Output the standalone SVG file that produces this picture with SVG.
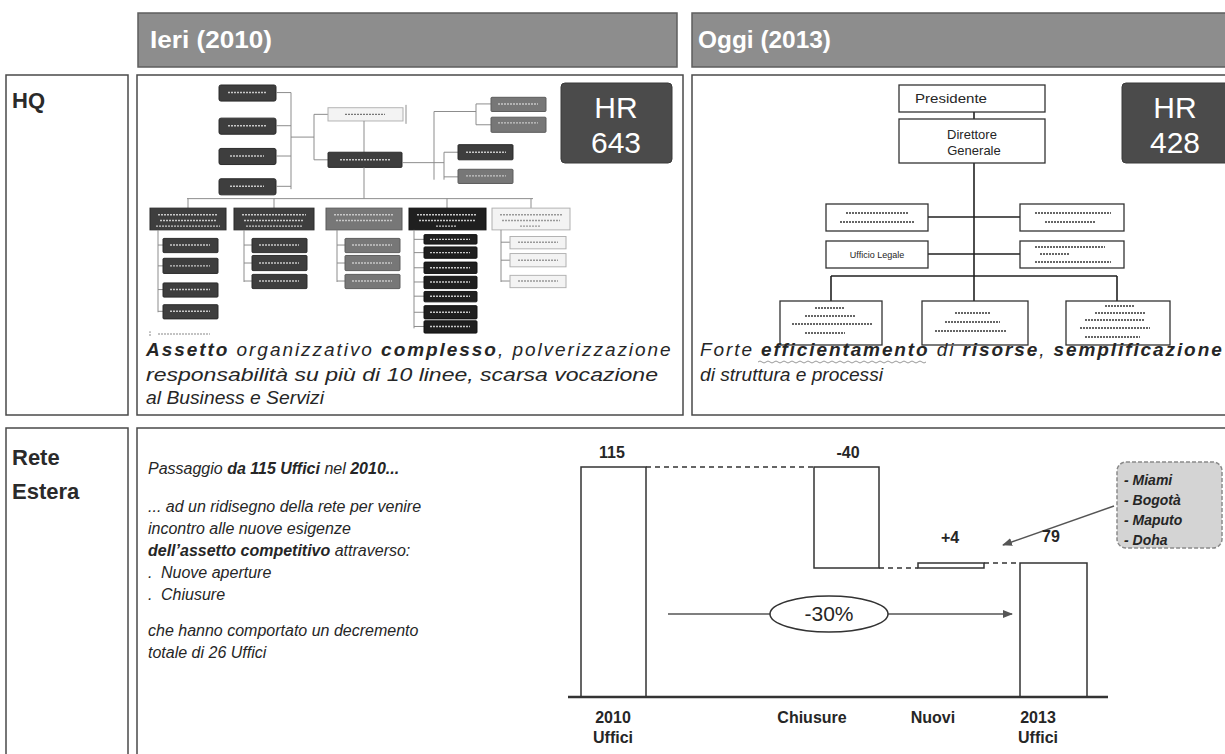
<svg xmlns="http://www.w3.org/2000/svg" width="1225" height="754" viewBox="0 0 1225 754">
<style>
text{font-family:"Liberation Sans",Arial,sans-serif;fill:#262626}
.hdr{fill:#8d8d8d;stroke:#5e5e5e;stroke-width:1.5}
.hdrt{fill:#ffffff;font-weight:bold;font-size:23px}
.panel{fill:#ffffff;stroke:#4a4a4a;stroke-width:1.5}
.lbl{font-weight:bold;font-size:22px;fill:#2a2a2a}
.hr{fill:#4b4b4b;stroke:#3a3a3a;stroke-width:1}
.hrt{fill:#ffffff;font-size:30px;text-anchor:middle}
.it{font-style:italic;font-size:19px}
.it2{font-style:italic;font-size:16px}
.b{font-weight:bold}
.oc{fill:#ffffff;stroke:#333;stroke-width:1.3}
.ocl{stroke:#222;stroke-width:1.6;fill:none}
.scr{stroke:#666;stroke-width:2;stroke-dasharray:2 1;fill:none}
.d1{fill:#3e3e3e;stroke:#2a2a2a;stroke-width:1}
.d2{fill:#777;stroke:#5a5a5a;stroke-width:1}
.d3{fill:#1f1f1f;stroke:#111;stroke-width:1}
.d4{fill:#f3f3f3;stroke:#b0b0b0;stroke-width:1}
.lc{stroke:#8a8a8a;stroke-width:1;fill:none}
.lw{stroke:#c8c8c8;stroke-width:1.5;stroke-dasharray:2 1;fill:none}
.bar{fill:#ffffff;stroke:#333;stroke-width:1.5}
.dash{stroke:#333;stroke-width:1.5;stroke-dasharray:5 4;fill:none}
.cl{font-weight:bold;font-size:16px;text-anchor:middle}
.mi{font-weight:bold;font-style:italic;font-size:14px}
</style>
<defs>
<marker id="ah" markerWidth="10" markerHeight="8" refX="9" refY="4" orient="auto" markerUnits="userSpaceOnUse">
<path d="M0,0 L10,4 L0,8 Z" fill="#555"/>
</marker>
</defs>

<!-- headers -->
<g id="hdr-ieri">
<rect class="hdr" x="138" y="13" width="539" height="54"/>
<text class="hdrt" x="150" y="48" textLength="122" lengthAdjust="spacingAndGlyphs">Ieri (2010)</text>
</g>
<g id="hdr-oggi">
<rect class="hdr" x="692" y="13" width="545" height="54"/>
<text class="hdrt" x="698" y="48" textLength="133" lengthAdjust="spacingAndGlyphs">Oggi (2013)</text>
</g>

<!-- row labels -->
<g id="lbl-hq">
<rect class="panel" x="6" y="75" width="122" height="340"/>
<text class="lbl" x="12" y="108">HQ</text>
</g>
<g id="lbl-rete">
<rect class="panel" x="6" y="428" width="122" height="340"/>
<text class="lbl" x="12" y="465">Rete</text>
<text class="lbl" x="12" y="499">Estera</text>
</g>

<!-- HQ Ieri panel -->
<g id="panel-ieri">
<rect class="panel" x="137" y="75" width="546" height="340"/>
<g transform="matrix(1,0,0,0.947,0,4.5)">
<rect class="d1" x="219" y="85" width="57" height="17" rx="2"/>
<rect class="d1" x="219" y="120" width="57" height="17" rx="2"/>
<rect class="d1" x="219" y="152" width="57" height="17" rx="2"/>
<rect class="d1" x="219" y="184" width="57" height="17" rx="2"/>
<path class="lw" d="M228,93h38M228,128h38M230,160h34M230,192h34"/>
<path class="lc" d="M276,93H291M276,128H291M276,160H291M276,192H291M291,93V195M291,140H314M314,116V164M314,116H328M314,164H328"/>
<rect class="d4" x="328" y="109" width="75" height="14"/>
<path d="M345,116h40" stroke="#777" stroke-width="1.5" stroke-dasharray="2 1"/>
<path class="lc" d="M406,106V126M364,123V156"/>
<rect class="d1" x="328" y="156" width="74" height="16" rx="1"/>
<path class="lw" d="M340,164h50"/>
<path class="lc" d="M402,167H434M434,113V185M434,113H476M476,105V127M476,105H491M476,127H491M434,167H444M444,156V185M444,156H458M444,182H458"/>
<rect class="d2" x="491" y="98" width="55" height="15" rx="1"/>
<rect class="d2" x="491" y="119" width="55" height="16" rx="1"/>
<rect class="d1" x="458" y="148" width="55" height="16" rx="1"/>
<rect class="d2" x="458" y="174" width="55" height="15" rx="1"/>
<path class="lw" d="M498,105h40M498,125h40M466,156h40M466,181h40"/>
<path class="lc" d="M364,172V205M187,205H533M188,205V215M274,205V215M447,205V215M531,205V215"/>
<rect class="d1" x="150" y="215" width="76" height="23"/>
<rect class="d1" x="234" y="215" width="80" height="23"/>
<rect class="d2" x="326" y="215" width="76" height="23"/>
<rect class="d3" x="409" y="215" width="77" height="23"/>
<rect class="d4" x="492" y="215" width="78" height="23"/>
<path class="lw" d="M158,222h60M160,228h56M156,234h64M242,222h64M244,228h60M246,234h56M334,222h60M336,228h56M417,222h60M419,228h56M436,234h20"/>
<path d="M500,222h62M502,228h58M520,234h20" stroke="#999" stroke-width="1.5" stroke-dasharray="2 1" fill="none"/>
<path class="lc" d="M158,238V325M158,254H163M158,276H163M158,301H163M158,324H163"/>
<rect class="d1" x="163" y="247" width="55" height="15" rx="1"/>
<rect class="d1" x="163" y="268" width="55" height="16" rx="1"/>
<rect class="d1" x="163" y="294" width="55" height="15" rx="1"/>
<rect class="d1" x="163" y="317" width="55" height="15" rx="1"/>
<path class="lc" d="M244,238V293M244,254H252M244,273H252M244,292H252"/>
<rect class="d1" x="252" y="247" width="55" height="15" rx="1"/>
<rect class="d1" x="252" y="265" width="55" height="16" rx="1"/>
<rect class="d1" x="252" y="285" width="55" height="15" rx="1"/>
<path class="lc" d="M337,238V293M337,254H345M337,273H345M337,292H345"/>
<rect class="d2" x="345" y="247" width="55" height="15" rx="1"/>
<rect class="d2" x="345" y="265" width="55" height="16" rx="1"/>
<rect class="d2" x="345" y="285" width="55" height="15" rx="1"/>
<path class="lc" d="M414,238V342M414,248H424M414,262H424M414,278H424M414,293H424M414,308H424M414,325H424M414,340H424"/>
<rect class="d3" x="424" y="243" width="53" height="10" rx="1"/>
<rect class="d3" x="424" y="256" width="53" height="12" rx="1"/>
<rect class="d3" x="424" y="272" width="53" height="12" rx="1"/>
<rect class="d3" x="424" y="287" width="53" height="13" rx="1"/>
<rect class="d3" x="424" y="303" width="53" height="11" rx="1"/>
<rect class="d3" x="424" y="318" width="53" height="14" rx="1"/>
<rect class="d3" x="424" y="334" width="53" height="13" rx="1"/>
<path class="lw" d="M430,248h40M430,262h40M430,278h40M430,293h40M430,308h40M430,325h40M430,340h40M170,254h40M170,276h40M170,301h40M170,324h40M259,254h40M259,273h40M259,292h40M352,254h40M352,273h40M352,292h40"/>
<path class="lc" d="M501,238V293M501,251H510M501,270H510M501,292H510"/>
<rect class="d4" x="510" y="245" width="56" height="13"/>
<rect class="d4" x="510" y="263" width="56" height="14"/>
<rect class="d4" x="510" y="286" width="56" height="13"/>
<path d="M518,251h40M518,270h40M518,292h40" stroke="#999" stroke-width="1.5" stroke-dasharray="2 1" fill="none"/>
<path d="M150,345v6M158,348h52" stroke="#b0b0b0" stroke-width="1.5" stroke-dasharray="2 1" fill="none"/>
</g>
<rect class="hr" x="561" y="83" width="111" height="80" rx="4"/>
<text class="hrt" x="616" y="118">HR</text>
<text class="hrt" x="616" y="153">643</text>
<text class="it" x="146" y="356" letter-spacing="1.95"><tspan class="b">Assetto</tspan> organizzativo <tspan class="b">complesso</tspan>,  polverizzazione</text>
<text class="it" x="146" y="381" textLength="512" lengthAdjust="spacingAndGlyphs">responsabilità  su più di 10 linee, scarsa vocazione</text>
<text class="it" x="146" y="404" textLength="178" lengthAdjust="spacingAndGlyphs">al Business e Servizi</text>
</g>

<!-- HQ Oggi panel -->
<g id="panel-oggi">
<rect class="panel" x="692" y="75" width="545" height="340"/>
<path class="ocl" d="M974,112V119M974,163V276M928,217H1020M928,254H1020M831,276H1117M831,276V301M974,276V301M1117,276V301"/>
<rect class="oc" x="899" y="85" width="146" height="27"/>
<text x="915" y="103" font-size="13" textLength="72" lengthAdjust="spacingAndGlyphs">Presidente</text>
<rect class="oc" x="899" y="119" width="146" height="44"/>
<text x="972" y="139" font-size="13" text-anchor="middle">Direttore</text>
<text x="974" y="155" font-size="13" text-anchor="middle">Generale</text>
<rect class="oc" x="826" y="204" width="102" height="27"/>
<path class="scr" d="M846,213h62M840,222h74"/>
<rect class="oc" x="1020" y="204" width="104" height="27"/>
<path class="scr" d="M1035,213h76M1045,222h50"/>
<rect class="oc" x="826" y="241" width="102" height="27"/>
<text x="877" y="258" font-size="9" text-anchor="middle" fill="#444">Ufficio Legale</text>
<rect class="oc" x="1020" y="241" width="104" height="27"/>
<path class="scr" d="M1035,247h70M1040,254h30M1035,262h76"/>
<rect class="oc" x="780" y="301" width="102" height="44"/>
<path class="scr" d="M815,308h30M805,316h50M792,324h80M805,333h40"/>
<rect class="oc" x="922" y="301" width="106" height="44"/>
<path class="scr" d="M955,313h35M945,322h55M935,331h72"/>
<rect class="oc" x="1066" y="301" width="104" height="44"/>
<path class="scr" d="M1105,306h30M1095,313h50M1085,320h60M1080,328h70M1085,337h55"/>
<rect class="hr" x="1122" y="83" width="110" height="80" rx="4"/>
<text class="hrt" x="1175" y="118">HR</text>
<text class="hrt" x="1175" y="153">428</text>
<text class="it" x="700" y="356" letter-spacing="1.9">Forte <tspan class="b">efficientamento</tspan> di <tspan class="b">risorse</tspan>, <tspan class="b">semplificazione</tspan></text>
<path d="M758,362 q2,-2 4,0 t4,0 t4,0 t4,0 t4,0 t4,0 t4,0 t4,0 t4,0 t4,0 t4,0 t4,0 t4,0 t4,0 t4,0 t4,0 t4,0 t4,0 t4,0 t4,0 t4,0 t4,0 t4,0 t4,0 t4,0 t4,0 t4,0 t4,0 t4,0 t4,0 t4,0 t4,0 t4,0 t4,0 t4,0 t4,0 t4,0 t4,0 t4,0 t4,0 t4,0 t4,0" stroke="#999" stroke-width="1" fill="none"/>
<text class="it" x="700" y="381" textLength="183" lengthAdjust="spacingAndGlyphs">di struttura e processi</text>
</g>

<!-- Rete Estera panel -->
<g id="panel-rete">
<rect class="panel" x="137" y="428" width="1100" height="340"/>
<text class="it2" x="148" y="474">Passaggio <tspan class="b">da 115 Uffici</tspan> nel <tspan class="b">2010...</tspan></text>
<text class="it2" x="148" y="512">... ad un ridisegno della rete per venire</text>
<text class="it2" x="148" y="534">incontro alle nuove esigenze</text>
<text class="it2" x="148" y="556"><tspan class="b">dell’assetto competitivo</tspan> attraverso:</text>
<text class="it2" x="148" y="578">.</text>
<text class="it2" x="161" y="578">Nuove aperture</text>
<text class="it2" x="148" y="600">.</text>
<text class="it2" x="161" y="600">Chiusure</text>
<text class="it2" x="148" y="636">che hanno comportato un decremento</text>
<text class="it2" x="148" y="658">totale di 26 Uffici</text>
</g>

<!-- chart -->
<g id="chart-bars">
<rect class="bar" x="581" y="467" width="65" height="230"/>
<rect class="bar" x="814" y="467" width="65" height="101"/>
<rect class="bar" x="918" y="563" width="66" height="5"/>
<rect class="bar" x="1020" y="563" width="67" height="134"/>
</g>
<g id="connectors">
<path class="dash" d="M646,467H814M879,568H918M984,563H1020"/>
<path d="M568,697H1108" stroke="#333" stroke-width="2.5"/>
<path d="M668,614H770M888,614H1012" stroke="#555" stroke-width="1.5" marker-end="url(#ah)"/>
<path d="M1114,506L1003,545" stroke="#555" stroke-width="1.5" marker-end="url(#ah)"/>
</g>
<g id="chart-labels">
<text class="cl" x="612" y="458">115</text>
<text class="cl" x="848" y="458">-40</text>
<text class="cl" x="950" y="543">+4</text>
<text class="cl" x="1051" y="542">79</text>
<text class="cl" x="613" y="723">2010</text>
<text class="cl" x="613" y="743">Uffici</text>
<text class="cl" x="812" y="723">Chiusure</text>
<text class="cl" x="933" y="723">Nuovi</text>
<text class="cl" x="1038" y="723">2013</text>
<text class="cl" x="1038" y="743">Uffici</text>
</g>
<g id="node-30">
<ellipse cx="829" cy="614" rx="59" ry="18" fill="#fff" stroke="#333" stroke-width="1.5"/>
<text x="829" y="621" font-size="21" text-anchor="middle">-30%</text>
</g>
<g id="node-cities">
<rect x="1117" y="462" width="105" height="86" rx="9" fill="#d4d4d4" stroke="#8a8a8a" stroke-width="1.5" stroke-dasharray="4 2"/>
<text class="mi" x="1124" y="485">- Miami</text>
<text class="mi" x="1124" y="505">- Bogotà</text>
<text class="mi" x="1124" y="525">- Maputo</text>
<text class="mi" x="1124" y="545">- Doha</text>
</g>
</svg>
